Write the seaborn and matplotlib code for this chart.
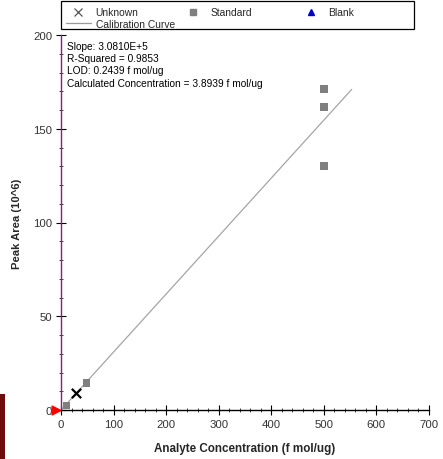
import matplotlib
matplotlib.use("Agg")
import matplotlib.pyplot as plt
import seaborn as sns
import pandas as pd
import numpy as np
from matplotlib.patches import Rectangle
from matplotlib.lines import Line2D
from matplotlib.ticker import MultipleLocator

# ---- data ----
standard_x = [10, 49, 500, 500, 500]
standard_y = [2.3, 14.4, 130.1, 161.6, 171.2]
unknown_x = [29]
unknown_y = [8.9]
curve_x = [0, 553]
curve_y = [0, 171.0]
flag_x = [-9]
flag_y = [0]
stats_lines = ["Slope: 3.0810E+5", "R-Squared = 0.9853",
               "LOD: 0.2439 f mol/ug",
               "Calculated Concentration = 3.8939 f mol/ug"]
legend_labels = ["Unknown", "Standard", "Blank", "Calibration Curve"]
x_label = "Analyte Concentration (f mol/ug)"
y_label = "Peak Area (10^6)"

sns.set_style("white")
plt.rcParams["font.family"] = ["Liberation Sans", "DejaVu Sans"]

W, H = 443, 460
fig = plt.figure(figsize=(W/100, H/100), dpi=100)
ax = fig.add_axes([61/W, 49/H, 368/W, 375/H])

sns.lineplot(x=curve_x, y=curve_y, ax=ax, color="#a5a5a5", linewidth=0.9, zorder=2)
sns.scatterplot(x=standard_x, y=standard_y, ax=ax, marker="s", s=28, color="#7f7f7f",
                edgecolor="none", zorder=3)
sns.scatterplot(x=unknown_x, y=unknown_y, ax=ax, marker="x", s=45, color="black",
                linewidth=1.6, zorder=4)
ax.scatter(flag_x, flag_y, marker=">", s=40, color="#ff0000", clip_on=False, zorder=5)

ax.set_xlim(0, 700)
ax.set_ylim(0, 200)
ax.xaxis.set_major_locator(MultipleLocator(100))
ax.xaxis.set_minor_locator(MultipleLocator(20))
ax.yaxis.set_major_locator(MultipleLocator(50))
ax.yaxis.set_minor_locator(MultipleLocator(10))

for s in ["top", "right"]:
    ax.spines[s].set_visible(False)
ax.spines["left"].set_color("#8b1a8b")
ax.spines["left"].set_linewidth(1.0)
ax.spines["bottom"].set_color("black")
ax.spines["bottom"].set_linewidth(1.0)

ax.tick_params(which="major", direction="inout", length=6.5, width=0.8, color="black",
               labelsize=8.2, labelcolor="#333333", pad=3)
ax.tick_params(which="minor", direction="inout", length=3.5, width=0.6, color="#222222")
ax.tick_params(axis="x", which="both", bottom=True)
ax.tick_params(axis="y", which="both", left=True)

ax.set_xlabel(x_label, fontsize=8.4, fontweight="bold", labelpad=9.5)
ax.set_ylabel(y_label, fontsize=8.1, fontweight="bold", labelpad=8)

ax.text(6/368, 0.985, "\n".join(stats_lines), transform=ax.transAxes, fontsize=7.3,
        va="top", ha="left", linespacing=1.3, color="black")

# legend (frame drawn as one box, entries placed in three groups)
lfs = 7.4
fpx = lfs * 100 / 72
common = dict(loc="upper left", frameon=False, fontsize=lfs, borderpad=0,
              borderaxespad=0, handlelength=25/fpx, handletextpad=5/fpx,
              labelspacing=0.15)
h_unknown = Line2D([], [], marker="x", linestyle="none", color="#555555",
                   markersize=6, markeredgewidth=0.9)
h_curve = Line2D([], [], color="#9a9a9a", linewidth=0.9)
h_std = Line2D([], [], marker="s", linestyle="none", color="#7f7f7f", markersize=4.5)
h_blank = Line2D([], [], marker="^", linestyle="none", color="#0000cc", markersize=4.5)
top = 1 - 8.5/H
fig.legend([h_unknown, h_curve], [legend_labels[0], legend_labels[3]],
           bbox_to_anchor=(65.5/W, top), **common)
fig.legend([h_std], [legend_labels[1]], bbox_to_anchor=(180.5/W, top), **common)
fig.legend([h_blank], [legend_labels[2]], bbox_to_anchor=(298.5/W, top), **common)
fig.patches.append(Rectangle((61/W, 1 - 30/H), 353/W, 28/H, transform=fig.transFigure,
                             facecolor="none", edgecolor="black", linewidth=0.9))

fig.patches.append(Rectangle((0, 0), 5/W, 65/H, transform=fig.transFigure,
                             facecolor="#6e0b0b", edgecolor="none"))

fig.savefig("out.png", dpi=100)
